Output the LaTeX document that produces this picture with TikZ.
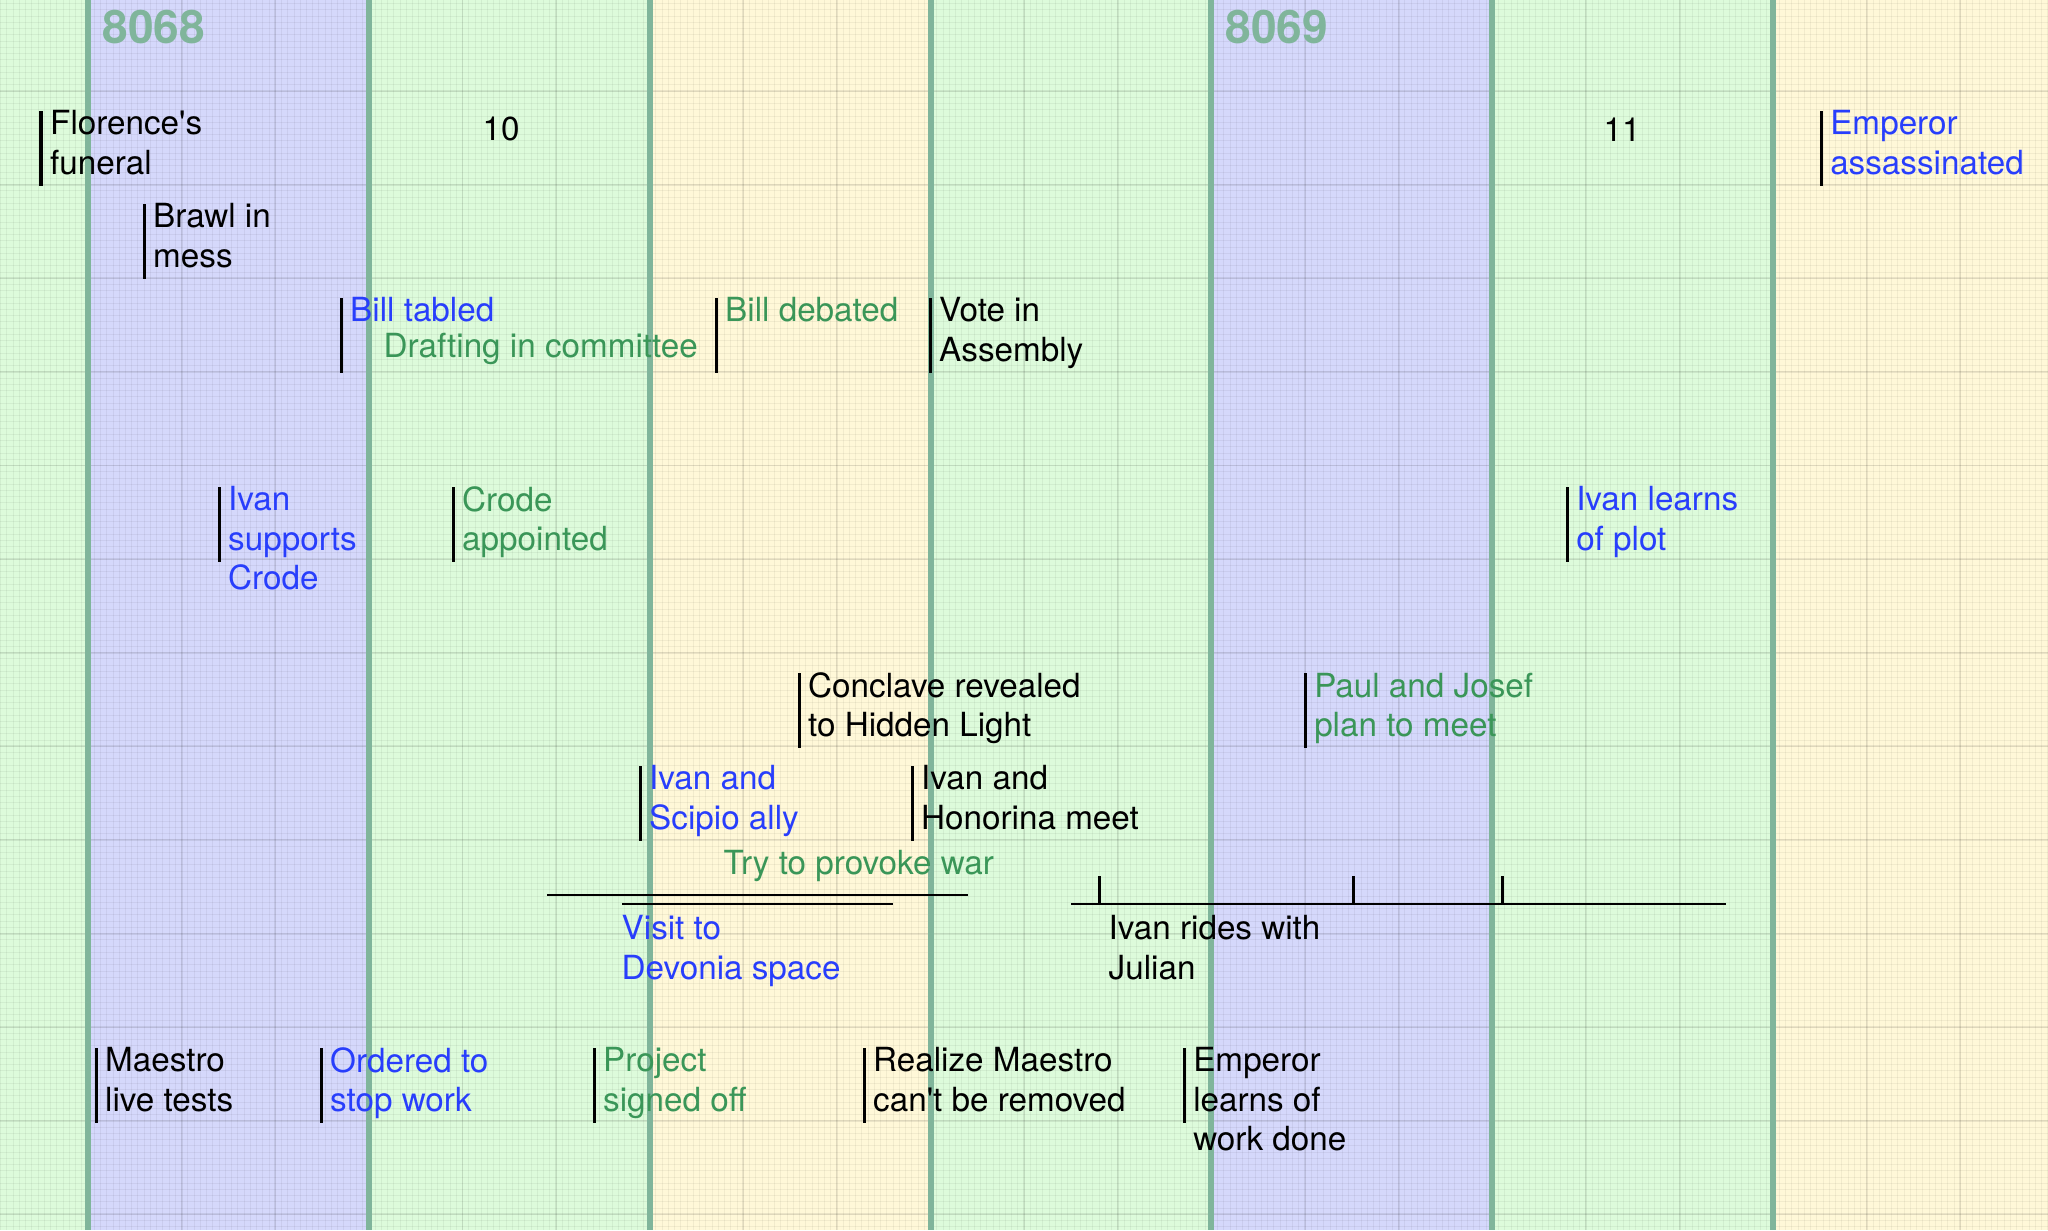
\documentclass[tikz,border=0pt]{standalone}
\usepackage{fontspec}
\setsansfont{TeX Gyre Heros}
\usepackage{tikz}
\usetikzlibrary{positioning}
\definecolor{bandgreen}{RGB}{221,251,219}
\definecolor{bandblue}{RGB}{213,216,251}
\definecolor{bandyellow}{RGB}{255,248,216}
\definecolor{yearcol}{RGB}{128,181,155}
\definecolor{evblue}{RGB}{40,62,252}
\definecolor{evgreen}{RGB}{58,150,88}

\begin{document}
\begin{tikzpicture}[x=0.01cm, y=-0.01cm, font=\sffamily,
    minorgrid/.style={black, opacity=0.05, line width=0.25pt},
    majorgrid/.style={black, opacity=0.08, line width=0.55pt},
    yearline/.style={draw=yearcol, line width=1.7pt},
    yearlabel/.style={text=yearcol, font=\sffamily\bfseries\fontsize{13.1}{14}\selectfont, inner sep=0, anchor=base west},
    monthlabel/.style={font=\sffamily\fontsize{9.45}{11.2}\selectfont, inner sep=0, anchor=base},
    evtick/.style={fill=black, inner sep=0, minimum width=0.03cm, minimum height=0.75cm, anchor=north},
    stub/.style={fill=black, inner sep=0, minimum width=0.03cm, minimum height=0.27cm, anchor=south},
    evtext/.style={font=\sffamily\fontsize{9.45}{11.2}\selectfont, inner sep=0, align=left, anchor=north west},
    spanlabel/.style={font=\sffamily\fontsize{9.45}{11.2}\selectfont, inner sep=0, anchor=base west},
    spanline/.style={line width=0.8pt}]
  \useasboundingbox (0,0) rectangle (2048,1230);
  \clip (0,0) rectangle (2048,1230);

  \fill[bandgreen] (0,0) rectangle (88,1230);
  \fill[bandblue] (88,0) rectangle (369,1230);
  \fill[bandgreen] (369,0) rectangle (650,1230);
  \fill[bandyellow] (650,0) rectangle (931,1230);
  \fill[bandgreen] (931,0) rectangle (1211,1230);
  \fill[bandblue] (1211,0) rectangle (1492,1230);
  \fill[bandgreen] (1492,0) rectangle (1773,1230);
  \fill[bandyellow] (1773,0) rectangle (2048,1230);

  \foreach \gx in {-15,...,315} \draw[minorgrid] (88+6.241*\gx,0) -- (88+6.241*\gx,1230);
  \foreach \gy in {-15,...,183} \draw[minorgrid] (0,91+6.241*\gy) -- (2048,91+6.241*\gy);
  \foreach \gx in {-1,...,21} \draw[majorgrid] (88+93.62*\gx,0) -- (88+93.62*\gx,1230);
  \foreach \gy in {-1,...,13} \draw[majorgrid] (0,91+93.62*\gy) -- (2048,91+93.62*\gy);

  \foreach \yx in {0,...,6} \draw[yearline] (88+280.85*\yx,0) -- (88+280.85*\yx,1230);

  \node[yearlabel] (y8068) at (102,43) {8068};
  \node[yearlabel] (y8069) at (1225,43) {8069};
  \node[monthlabel] (m10) at (501,140) {10};
  \node[monthlabel] (m11) at (1622,141) {11};

  \node[evtick] (florence-t) at (41,110) {};
  \node[right=1.8pt of florence-t.north east, evtext] (florence) {Florence\textquotesingle s\\funeral};
  \node[evtick] (brawl-t) at (144,203) {};
  \node[right=1.8pt of brawl-t.north east, evtext] (brawl) {Brawl in\\mess};
  \node[evtick] (tabled-t) at (341,297) {};
  \node[right=1.8pt of tabled-t.north east, evtext, text=evblue] (tabled) {Bill tabled};
  \node[spanlabel, text=evgreen] (drafting) at (383,357) {Drafting in committee};
  \node[evtick] (debated-t) at (716,297) {};
  \node[right=1.8pt of debated-t.north east, evtext, text=evgreen] (debated) {Bill debated};
  \node[evtick] (vote-t) at (930,297) {};
  \node[right=1.8pt of vote-t.north east, evtext] (vote) {Vote in\\Assembly};
  \node[evtick] (assassin-t) at (1821,110) {};
  \node[right=1.8pt of assassin-t.north east, evtext, text=evblue] (assassin) {Emperor\\assassinated};

  \node[evtick] (supports-t) at (219,486) {};
  \node[right=1.8pt of supports-t.north east, evtext, text=evblue] (supports) {Ivan\\supports\\Crode};
  \node[evtick] (crode-t) at (453,486) {};
  \node[right=1.8pt of crode-t.north east, evtext, text=evgreen] (crode) {Crode\\appointed};
  \node[evtick] (plot-t) at (1567,486) {};
  \node[right=1.8pt of plot-t.north east, evtext, text=evblue] (plot) {Ivan learns\\of plot};

  \node[evtick] (conclave-t) at (799,672) {};
  \node[right=1.8pt of conclave-t.north east, evtext] (conclave) {Conclave revealed\\to Hidden Light};
  \node[evtick] (paul-t) at (1305,672) {};
  \node[right=1.8pt of paul-t.north east, evtext, text=evgreen] (paul) {Paul and Josef\\plan to meet};
  \node[evtick] (scipio-t) at (640,765) {};
  \node[right=1.8pt of scipio-t.north east, evtext, text=evblue] (scipio) {Ivan and\\Scipio ally};
  \node[evtick] (honorina-t) at (912,765) {};
  \node[right=1.8pt of honorina-t.north east, evtext] (honorina) {Ivan and\\Honorina meet};

  \coordinate (provoke-a) at (547,895);
  \coordinate (provoke-b) at (968,895);
  \draw[spanline] (provoke-a) -- (provoke-b);
  \node[spanlabel, text=evgreen] (provoke) at (723,874) {Try to provoke war};
  \coordinate (visit-a) at (622,904);
  \coordinate (visit-b) at (893,904);
  \draw[spanline] (visit-a) -- (visit-b);
  \node[evtext, text=evblue] (visit) at (621,915) {Visit to\\Devonia space};

  \coordinate (ride-a) at (1071,904);
  \coordinate (ride-b) at (1726,904);
  \draw[spanline] (ride-a) -- (ride-b);
  \node[stub] (ride1) at (1099,904) {};
  \node[stub] (ride2) at (1353,904) {};
  \node[stub] (ride3) at (1502,904) {};
  \node[evtext] (ride) at (1108,915) {Ivan rides with\\Julian};

  \node[evtick] (maestro-t) at (96,1047) {};
  \node[right=1.8pt of maestro-t.north east, evtext] (maestro) {Maestro\\live tests};
  \node[evtick] (ordered-t) at (321,1047) {};
  \node[right=1.8pt of ordered-t.north east, evtext, text=evblue] (ordered) {Ordered to\\stop work};
  \node[evtick] (signed-t) at (594,1047) {};
  \node[right=1.8pt of signed-t.north east, evtext, text=evgreen] (signed) {Project\\signed off};
  \node[evtick] (realize-t) at (864,1047) {};
  \node[right=1.8pt of realize-t.north east, evtext] (realize) {Realize Maestro\\can\textquotesingle t be removed};
  \node[evtick] (learns-t) at (1184,1047) {};
  \node[right=1.8pt of learns-t.north east, evtext] (learns) {Emperor\\learns of\\work done};
\end{tikzpicture}
\end{document}
